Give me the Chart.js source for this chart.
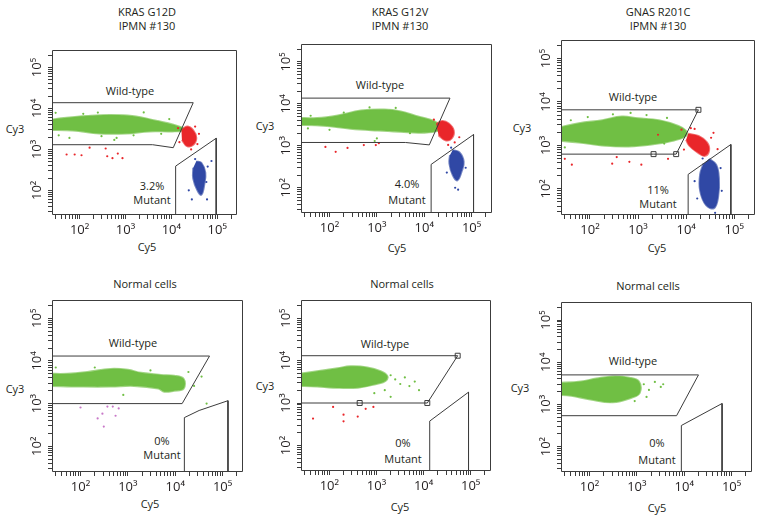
<!DOCTYPE html>
<html>
<head>
<meta charset="utf-8">
<script src="https://cdn.jsdelivr.net/npm/chart.js@4.4.1/dist/chart.umd.min.js"></script>
<style>
body{margin:0;background:#fff;width:763px;height:517px;position:relative;overflow:hidden;font-family:"Open Sans",sans-serif;color:#231f20}
canvas{position:absolute}
.t{position:absolute;font-size:11px;white-space:nowrap;transform:translate(-50%,-50%);line-height:1}
</style>
</head>
<body>
<div class="t" style="left:147px;top:11px">KRAS G12D</div>
<div class="t" style="left:147px;top:25px">IPMN #130</div>
<div class="t" style="left:400px;top:11px">KRAS G12V</div>
<div class="t" style="left:400px;top:25px">IPMN #130</div>
<div class="t" style="left:658px;top:11px">GNAS R201C</div>
<div class="t" style="left:658px;top:25px">IPMN #130</div>
<div class="t" style="left:145px;top:283px">Normal cells</div>
<div class="t" style="left:402px;top:283px">Normal cells</div>
<div class="t" style="left:648px;top:285px">Normal cells</div>

<div class="t" style="left:15px;top:128px">Cy3</div>
<div class="t" style="left:265px;top:125px">Cy3</div>
<div class="t" style="left:522px;top:127px">Cy3</div>
<div class="t" style="left:15px;top:388px">Cy3</div>
<div class="t" style="left:265px;top:385px">Cy3</div>
<div class="t" style="left:520px;top:387px">Cy3</div>
<div class="t" style="left:147px;top:246px">Cy5</div>
<div class="t" style="left:397px;top:247px">Cy5</div>
<div class="t" style="left:657px;top:247px">Cy5</div>
<div class="t" style="left:150px;top:503px">Cy5</div>
<div class="t" style="left:400px;top:506px">Cy5</div>
<div class="t" style="left:657px;top:507px">Cy5</div>

<div class="t" style="left:130px;top:90px">Wild-type</div>
<div class="t" style="left:380px;top:84px">Wild-type</div>
<div class="t" style="left:633px;top:96px">Wild-type</div>
<div class="t" style="left:133px;top:342px">Wild-type</div>
<div class="t" style="left:385px;top:343px">Wild-type</div>
<div class="t" style="left:633px;top:360px">Wild-type</div>

<div class="t" style="left:152px;top:185px">3.2%</div>
<div class="t" style="left:152px;top:199px">Mutant</div>
<div class="t" style="left:407px;top:183px">4.0%</div>
<div class="t" style="left:407px;top:199px">Mutant</div>
<div class="t" style="left:658px;top:189px">11%</div>
<div class="t" style="left:658px;top:203px">Mutant</div>
<div class="t" style="left:162px;top:440px">0%</div>
<div class="t" style="left:162px;top:454px">Mutant</div>
<div class="t" style="left:403px;top:442px">0%</div>
<div class="t" style="left:403px;top:458px">Mutant</div>
<div class="t" style="left:657px;top:442px">0%</div>
<div class="t" style="left:657px;top:459px">Mutant</div>

<canvas id="p1"></canvas>
<canvas id="p2"></canvas>
<canvas id="p3"></canvas>
<canvas id="p4"></canvas>
<canvas id="p5"></canvas>
<canvas id="p6"></canvas>

<script>
// axis range and ticks (Cy5 / Cy3 fluorescence, log)
var axisMin = 25, axisMax = 270000;
var tickDecades = [10, 100, 1000, 10000, 100000];
var tickSteps = [1, 2, 3, 4, 5, 6, 7, 8, 9];
var tickLabels = {100: '10\u00b2', 1000: '10\u00b3', 10000: '10\u2074', 100000: '10\u2075'};

// KRAS G12D, IPMN #130
var g12dWildGate = [[25,13800],[30000,13800],[11000,1100],[3900,1300],[25,1300]];
var g12dMutantGate = [[12400,25],[12400,390],[95000,1870],[95000,25]];
var g12dGreen = [[20,5200],[52,5900],[140,6500],[450,6900],[1400,6500],[4700,5000],[13000,3800],[19000,3200],[19000,2900],[10500,2750],[3300,2750],[1050,2450],[270,2450],[71,2900],[20,3000]];
var g12dRed = [[16600,2900],[22000,3600],[30000,2900],[35000,1900],[30000,1300],[22000,1200],[17000,1700]];
var g12dBlue = [[35000,510],[45000,470],[55000,270],[52000,135],[45000,78],[37000,100],[30000,195],[30000,355]];
var g12dGreenDots = [[30,7800],[35,2200],[570,1700],[640,1900],[2500,8000],[9000,5500],[60,1900],[120,7400],[300,2100],[1500,2200],[6000,2400],[250,7900]];
var g12dRedDots = [[52,750],[78,750],[110,720],[165,1100],[370,1050],[400,680],[520,610],[680,790],[860,610],[15000,1500],[37000,1350],[40000,2400],[27000,1000],[14000,3300],[33000,3600]];
var g12dBlueDots = [[24000,100],[60000,60],[75000,520],[28000,60],[62000,380],[33000,580],[58000,160]];

// KRAS G12V, IPMN #130
var g12vWildGate = [[25,13700],[35000,13700],[12800,1050],[4000,1200],[25,1200]];
var g12vMutantGate = [[14000,25],[14000,360],[110000,1850],[110000,25]];
var g12vGreen = [[20,4600],[55,4600],[150,5300],[460,6900],[1400,7300],[3200,6600],[7400,5000],[16000,3900],[21000,3000],[20000,2300],[8700,2050],[3200,2150],[1050,2300],[280,2550],[75,3000],[20,3150]];
var g12vRed = [[18000,3300],[24000,3900],[33000,3400],[42000,2300],[38000,1500],[28000,1350],[20000,1800]];
var g12vBlue = [[40000,790],[55000,700],[68000,420],[62000,250],[50000,150],[40000,200],[34000,380],[35000,600]];
var g12vGreenDots = [[30,3500],[40,5200],[35,2600],[900,1300],[1000,1500],[60,3900],[200,6200],[700,8200],[2500,8000],[5000,2000],[100,2400]];
var g12vRedDots = [[82,940],[135,720],[240,890],[530,1040],[950,1040],[1100,1150],[44000,1200],[32000,1050],[55000,1600],[16000,4200]];
var g12vBlueDots = [[45000,100],[30000,230],[75000,300],[52000,90],[37000,900]];

// GNAS R201C, IPMN #130
var r201cWildGate = [[25,6600],[18000,6600],[6200,630],[2100,630],[25,630]];
var r201cGateMarks = [[18000,6600],[6200,630],[2100,630]];
var r201cMutantGate = [[11000,25],[11000,215],[85000,1050],[85000,25]];
var r201cGreen = [[20,2500],[59,3250],[180,3800],[460,4600],[1000,4200],[2700,3800],[6900,2800],[10000,2150],[10000,1670],[5600,1300],[1900,1050],[640,950],[180,1000],[59,1170],[20,1300]];
var r201cRed = [[11000,1850],[18000,1650],[27000,1170],[30000,770],[24500,575],[17000,700],[11500,1000],[10000,1350]];
var r201cBlue = [[30000,490],[42000,360],[48000,175],[46000,63],[38000,36],[26000,42],[19500,91],[19500,215],[23000,380]];
var r201cGreenDots = [[40,3800],[90,4500],[300,5200],[1500,5000],[3500,1100],[30,900],[700,5600],[4000,4300]];
var r201cRedDots = [[360,540],[290,380],[660,420],[1170,360],[4200,490],[30,490],[42,360],[12500,2500],[37000,1950],[45000,820],[2600,1760],[8000,2300],[9000,800],[33000,1500],[15000,2400]];
var r201cBlueDots = [[15000,150],[17000,60],[55000,90],[52000,300],[22000,500],[40000,28]];

// Normal cells (three panels)
var normal1WildGate = [[25,13000],[53000,13000],[14000,1000],[25,1000]];
var normal1MutantGate = [[15600,25],[15600,470],[32000,690],[130000,1170],[130000,25]];
var normal1Green = [[20,5000],[53,5000],[140,5500],[430,6500],[1000,6200],[1900,5250],[5000,4700],[9500,4500],[15000,3800],[15000,2250],[9500,2000],[5900,1900],[4400,2250],[1350,2600],[430,2500],[115,2500],[20,2600]];
var normal1GreenDots = [[19000,5500],[46000,1000],[36000,4300],[30,7000],[800,1600],[25000,2600],[200,7000],[3000,6000]];
var normal1PinkDots = [[230,450],[290,580],[370,850],[480,850],[550,520],[310,290],[100,810],[640,770]];

var normal2WildGate = [[25,13000],[53000,13000],[12000,1000],[440,1000],[25,1000]];
var normal2GateMarks = [[53000,13000],[12000,1000],[440,1000]];
var normal2MutantGate = [[13500,25],[13500,375],[90000,1800],[90000,25]];
var normal2Green = [[20,4800],[55,5600],[150,6600],[280,7300],[640,6900],[1220,5600],[1700,4300],[1550,3300],[1050,2850],[400,2300],[120,2300],[55,2450],[20,2550]];
var normal2GreenDots = [[2000,4500],[2500,3600],[3200,2800],[4000,4000],[5000,2500],[6500,3200],[1500,2000],[900,1700],[2000,1400],[8000,2000]];
var normal2RedDots = [[120,810],[200,530],[400,480],[590,730],[860,810],[45,430],[200,370]];

var normal3WildGate = [[25,5000],[20000,5000],[6900,540],[25,540]];
var normal3MutantGate = [[8700,25],[8700,316],[63000,1050],[63000,25]];
var normal3Green = [[20,3200],[66,3500],[140,4100],[310,4600],[690,4300],[1100,3500],[1150,1870],[790,1450],[310,1120],[105,1300],[41,1600],[20,1700]];
var normal3GreenDots = [[1400,3000],[1800,2200],[2400,3400],[3200,2600],[1600,1500],[3600,3000],[900,1200]];

var GREEN = 'rgb(112,191,68)', GREEN_EDGE = 'rgba(112,191,68,0.65)';
var RED = 'rgb(233,38,42)', RED_EDGE = 'rgba(233,38,42,0.65)';
var BLUE = 'rgb(48,72,165)', BLUE_EDGE = 'rgba(48,72,165,0.65)';
var PINK = 'rgb(200,120,200)';
var LINE = '#3c3c3c';

var logTicks = [];
tickDecades.forEach(function (d) {
	tickSteps.forEach(function (s) {
		if (d * s >= axisMin && d * s <= axisMax) logTicks.push(d * s);
	});
});

function xy(pts) { return pts.map(function (p) { return {x: p[0], y: p[1]}; }); }

function gate(pts) {
	return {data: xy(pts), showLine: true, borderColor: LINE, borderWidth: 1, pointRadius: 0, fill: false, tension: 0};
}
function marks(pts) {
	return {data: xy(pts), showLine: false, pointStyle: 'rect', pointRadius: 3.5, pointBorderWidth: 1,
		pointBorderColor: LINE, pointBackgroundColor: 'rgba(255,255,255,0)'};
}
function cloud(pts, color, edge) {
	return {data: xy(pts), showLine: true, fill: 'shape', backgroundColor: color, borderColor: edge,
		borderWidth: 2, tension: 0.4, pointRadius: 0};
}
function dots(pts, color) {
	return {data: xy(pts), showLine: false, pointRadius: 1.1, pointBorderWidth: 0, pointBackgroundColor: color};
}

// box round the plot area
var framePlugin = {
	id: 'frame',
	afterDraw: function (chart) {
		var a = chart.chartArea, c = chart.ctx;
		var l = Math.round(a.left) + 0.5, r = Math.round(a.right) - 0.5;
		var t = Math.round(a.top) + 0.5, b = Math.round(a.bottom) - 0.5;
		c.save();
		c.strokeStyle = LINE;
		c.lineWidth = 1;
		c.beginPath();
		c.moveTo(l, t); c.lineTo(r, t); c.lineTo(r, b); c.lineTo(l, b); c.closePath();
		c.stroke();
		c.restore();
	}
};

function drawPanel(id, box, datasets) {
	var cv = document.getElementById(id);
	var w = box[2] - box[0], h = box[3] - box[1];
	cv.width = w + 44;
	cv.height = h + 2 + 24;
	cv.style.left = (box[0] - 40) + 'px';
	cv.style.top = (box[1] - 2) + 'px';
	var axisCommon = {
		type: 'logarithmic', min: axisMin, max: axisMax,
		afterBuildTicks: function (s) { s.ticks = logTicks.map(function (v) { return {value: v}; }); },
		grid: {drawOnChartArea: false, drawTicks: true, tickLength: 4, color: LINE},
		border: {display: false}
	};
	new Chart(cv.getContext('2d'), {
		type: 'scatter',
		data: {datasets: datasets},
		options: {
			responsive: false, animation: false, devicePixelRatio: 1,
			layout: {padding: {top: 2, right: 4, left: 0, bottom: 0}},
			plugins: {legend: {display: false}, tooltip: {enabled: false}},
			scales: {
				x: Object.assign({}, axisCommon, {
					afterFit: function (s) { s.height = 24; },
					ticks: {autoSkip: false, maxRotation: 0, padding: 3, color: '#231f20',
						font: {family: '"Open Sans", sans-serif', size: 13},
						callback: function (v) { return tickLabels[v] || ''; }}
				}),
				y: Object.assign({}, axisCommon, {
					afterFit: function (s) { s.width = 40; },
					ticks: {autoSkip: false, minRotation: 90, maxRotation: 90, crossAlign: 'center', padding: 1, color: '#231f20',
						font: {family: '"Open Sans", sans-serif', size: 13},
						callback: function (v) { return tickLabels[v] || ''; }}
				})
			}
		},
		plugins: [framePlugin]
	});
}

drawPanel('p1', [52, 43, 237, 215], [
	gate(g12dWildGate), gate(g12dMutantGate),
	dots(g12dGreenDots, GREEN), dots(g12dRedDots, RED), dots(g12dBlueDots, BLUE),
	cloud(g12dRed, RED, RED_EDGE), cloud(g12dBlue, BLUE, BLUE_EDGE), cloud(g12dGreen, GREEN, GREEN_EDGE)
]);

drawPanel('p2', [301, 37, 492, 213], [
	gate(g12vWildGate), gate(g12vMutantGate),
	dots(g12vGreenDots, GREEN), dots(g12vRedDots, RED), dots(g12vBlueDots, BLUE),
	cloud(g12vRed, RED, RED_EDGE), cloud(g12vBlue, BLUE, BLUE_EDGE), cloud(g12vGreen, GREEN, GREEN_EDGE)
]);

drawPanel('p3', [561, 33, 756, 215], [
	marks(r201cGateMarks), gate(r201cWildGate), gate(r201cMutantGate),
	dots(r201cGreenDots, GREEN), dots(r201cRedDots, RED), dots(r201cBlueDots, BLUE),
	cloud(r201cRed, RED, RED_EDGE), cloud(r201cBlue, BLUE, BLUE_EDGE), cloud(r201cGreen, GREEN, GREEN_EDGE)
]);

drawPanel('p4', [52, 293, 243, 472], [
	gate(normal1WildGate), gate(normal1MutantGate),
	dots(normal1GreenDots, GREEN), dots(normal1PinkDots, PINK),
	cloud(normal1Green, GREEN, GREEN_EDGE)
]);

drawPanel('p5', [301, 293, 492, 471], [
	marks(normal2GateMarks), gate(normal2WildGate), gate(normal2MutantGate),
	dots(normal2GreenDots, GREEN), dots(normal2RedDots, RED),
	cloud(normal2Green, GREEN, GREEN_EDGE)
]);

drawPanel('p6', [561, 295, 752, 472], [
	gate(normal3WildGate), gate(normal3MutantGate),
	dots(normal3GreenDots, GREEN),
	cloud(normal3Green, GREEN, GREEN_EDGE)
]);
</script>
</body>
</html>
